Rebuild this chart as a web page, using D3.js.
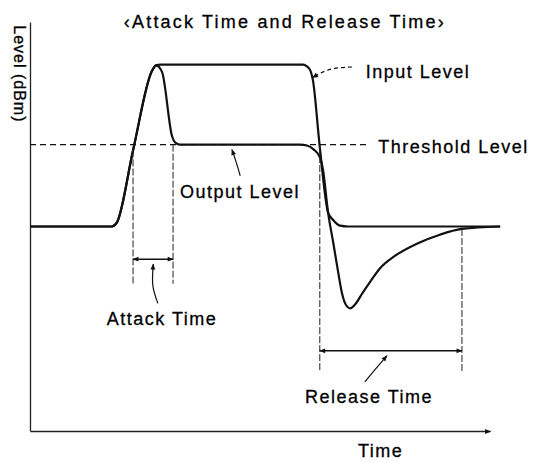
<!DOCTYPE html>
<html>
<head>
<meta charset="utf-8">
<script src="https://cdn.jsdelivr.net/npm/d3@7"></script>
<style>
  body { margin: 0; background: #fff; }
  svg text { font-family: "Liberation Sans", Arial, sans-serif; fill: #000; stroke: #000; stroke-width: 0.3; }
</style>
</head>
<body>
<div id="chart"></div>
<script>
// time (arbitrary units) and level (dB, relative to the steady input level)
var inputTime  = [0, 17.8, 18.9, 22.4, 26.5, 27.4, 28.3, 59.3, 60.7, 61.5, 63.0, 64.8, 65.9, 67.4, 69.1, 102.2]
var inputLevel = [0, 0, 0.5, 9.3, 19.0, 19.7, 19.8, 19.8, 19.3, 17.9, 9.7, 1.7, 0.8, 0.1, 0, 0]

var outputTime  = [0, 17.8, 18.9, 22.4, 26.5, 27.4, 28.7, 30.9, 31.5, 32.6, 58.7, 60.2, 61.7, 63.0, 63.7, 64.8, 65.9, 67.0, 67.8, 68.7, 69.6, 70.7, 72.2, 73.9, 76.1, 79.3, 84.1, 89.1, 93.9, 102.2]
var outputLevel = [0, 0, 0.5, 9.3, 19.0, 19.7, 18.9, 11.0, 10.3, 10.0, 10.0, 9.9, 9.4, 8.5, 6.9, 1.7, -1.9, -5.6, -8.1, -9.6, -10.0, -9.5, -8.2, -6.8, -5.1, -3.6, -2.1, -1.0, -0.3, 0]

var thresholdLevel = 10
var thresholdEnd = 73.5

var attackTimes  = [22.4, 31.1]   // start, end of attack
var releaseTimes = [63.0, 93.9]   // start, end of release

const width = 533, height = 462

const x = d3.scaleLinear().domain([0, 100]).range([30, 490])
const y = d3.scaleLinear().domain([-25, 25]).range([431, 22])

const svg = d3.select('#chart').append('svg')
    .attr('width', width)
    .attr('height', height)

const defs = svg.append('defs')
defs.append('marker')
    .attr('id', 'arrow')
    .attr('viewBox', '0 0 10 10')
    .attr('refX', 9).attr('refY', 5)
    .attr('markerWidth', 8).attr('markerHeight', 6)
    .attr('markerUnits', 'userSpaceOnUse')
    .attr('orient', 'auto-start-reverse')
  .append('path')
    .attr('d', 'M0,1 L10,5 L0,9 Z')
    .attr('fill', '#111')

// axes, no ticks
svg.append('g')
    .attr('transform', `translate(${x(0)},0)`)
    .call(d3.axisLeft(y).tickValues([]).tickSizeOuter(0))
svg.append('g')
    .attr('class', 'x-axis')
    .attr('transform', `translate(0,${y(-25)})`)
    .call(d3.axisBottom(x).tickValues([]).tickSizeOuter(0))
svg.selectAll('.domain')
    .attr('stroke', '#222')
    .attr('stroke-width', 1.3)
svg.select('.x-axis .domain')
    .attr('marker-end', 'url(#arrow)')

// threshold dashed line
svg.append('line')
    .attr('x1', x(0)).attr('x2', x(thresholdEnd))
    .attr('y1', y(thresholdLevel)).attr('y2', y(thresholdLevel))
    .attr('stroke', '#111').attr('stroke-width', 1.2)
    .attr('stroke-dasharray', '6,4')

// curves
const line = d3.line()
    .x(d => x(d[0]))
    .y(d => y(d[1]))
    .curve(d3.curveMonotoneX)

const inputData = inputTime.map((t, i) => [t, inputLevel[i]])
const outputData = outputTime.map((t, i) => [t, outputLevel[i]])

svg.append('path')
    .datum(inputData)
    .attr('d', line)
    .attr('fill', 'none').attr('stroke', '#111').attr('stroke-width', 2.2)
svg.append('path')
    .datum(outputData)
    .attr('d', line)
    .attr('fill', 'none').attr('stroke', '#111').attr('stroke-width', 2.2)

// attack / release guides
const guide = (t, l1, l2) => svg.append('line')
    .attr('x1', x(t)).attr('x2', x(t))
    .attr('y1', y(l1)).attr('y2', y(l2))
    .attr('stroke', '#222').attr('stroke-width', 1)
    .attr('stroke-dasharray', '7,2')
guide(attackTimes[0], 9.3, -7)
guide(attackTimes[1], 10, -7)
guide(releaseTimes[0], 9.7, -17.8)
guide(releaseTimes[1], -0.3, -17.8)

const span = (t1, t2, l) => svg.append('line')
    .attr('x1', x(t1)).attr('x2', x(t2))
    .attr('y1', y(l)).attr('y2', y(l))
    .attr('stroke', '#111').attr('stroke-width', 1.5)
    .attr('marker-start', 'url(#arrow)')
    .attr('marker-end', 'url(#arrow)')
span(attackTimes[0], attackTimes[1], -4.0)
span(releaseTimes[0], releaseTimes[1], -15.2)

// leader lines
const leader = d3.line()
    .x(d => x(d[0]))
    .y(d => y(d[1]))
    .curve(d3.curveNatural)
const leaders = [
    { pts: [[70.0, 19.5], [65.2, 19.2], [61.4, 18.2]], dash: '4,3' },
    { pts: [[45.7, 6.2], [44.8, 7.9], [43.9, 9.4]], dash: null },
    { pts: [[27.8, -9.4], [26.7, -7.2], [26.8, -4.6]], dash: null },
    { pts: [[72.8, -19.0], [75.0, -17.5], [77.6, -15.8]], dash: null },
]
leaders.forEach(l => {
    svg.append('path')
        .datum(l.pts)
        .attr('d', leader)
        .attr('fill', 'none').attr('stroke', '#111').attr('stroke-width', 1.2)
        .attr('stroke-dasharray', l.dash)
        .attr('marker-end', 'url(#arrow)')
})

// text
const labels = [
    { text: 'Input Level', t: 73.0, l: 18.2 },
    { text: 'Threshold Level', t: 75.7, l: 9.0 },
    { text: 'Output Level', t: 32.6, l: 3.5 },
    { text: 'Attack Time', t: 16.7, l: -12.0 },
    { text: 'Release Time', t: 59.8, l: -21.6 },
    { text: 'Time', t: 71.3, l: -28.2 },
]
svg.selectAll('text.lbl')
    .data(labels)
    .enter().append('text')
    .attr('class', 'lbl')
    .attr('x', d => x(d.t))
    .attr('y', d => y(d.l))
    .attr('font-size', 18)
    .attr('letter-spacing', 1.5)
    .text(d => d.text)

svg.append('text')
    .attr('x', x(55.4))
    .attr('y', y(24.3))
    .attr('text-anchor', 'middle')
    .attr('font-size', 18)
    .attr('letter-spacing', 2.2)
    .text('‹Attack Time and Release Time›')

svg.append('text')
    .attr('transform', `translate(${x(-3.5)},${y(24.6)}) rotate(90)`)
    .attr('font-size', 16)
    .attr('letter-spacing', 1)
    .text('Level (dBm)')
</script>
</body>
</html>
